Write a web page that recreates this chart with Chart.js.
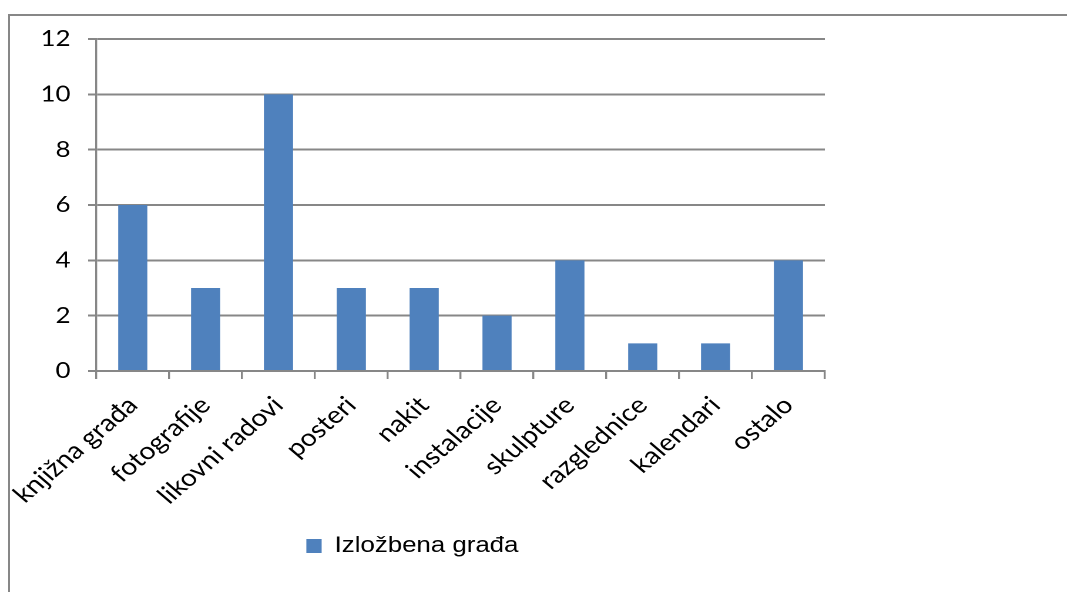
<!DOCTYPE html>
<html>
<head>
<meta charset="utf-8">
<script src="https://cdn.jsdelivr.net/npm/chart.js@4/dist/chart.umd.min.js"></script>
<style>
  html, body { margin: 0; padding: 0; background: #fff; width: 1067px; height: 592px; overflow: hidden; }
  #frame { position: absolute; left: 8px; top: 14px; width: 2000px; height: 2000px; border: 2px solid #878787; box-sizing: border-box; }
  #wrap { position: absolute; left: 0; top: 0; width: 710px; height: 592px; transform: scaleX(1.175); transform-origin: 0 0; }
</style>
</head>
<body>
<div id="frame"></div>
<div id="wrap"><canvas id="c"></canvas></div>
<script>
const categories = ['knjižna građa', 'fotografije', 'likovni radovi', 'posteri', 'nakit', 'instalacije', 'skulpture', 'razglednice', 'kalendari', 'ostalo'];
const seriesName = 'Izložbena građa';
const values = [6, 3, 10, 3, 3, 2, 4, 1, 1, 4];
const yTicks = [0, 2, 4, 6, 8, 10, 12];

const axisGray = '#878787';

new Chart(document.getElementById('c'), {
  type: 'bar',
  data: {
    labels: categories,
    datasets: [{
      label: seriesName,
      data: values,
      backgroundColor: '#4F81BD',
      borderWidth: 0,
      barPercentage: 0.4,
      categoryPercentage: 1.0
    }]
  },
  options: {
    responsive: true,
    maintainAspectRatio: false,
    animation: false,
    devicePixelRatio: 2,
    layout: { padding: { left: 0, right: 8, top: 39, bottom: 25 } },
    plugins: {
      tooltip: { enabled: false },
      legend: {
        position: 'bottom',
        labels: {
          boxWidth: 13,
          boxHeight: 14,
          padding: 10,
          color: '#000',
          font: { family: 'Liberation Sans', size: 22 }
        }
      }
    },
    scales: {
      x: {
        offset: true,
        grid: {
          offset: true,
          drawOnChartArea: false,
          drawTicks: true,
          tickLength: 8,
          color: axisGray,
          lineWidth: 1.7
        },
        border: { display: true, color: axisGray, width: 2 },
        ticks: {
          autoSkip: false,
          minRotation: 45,
          maxRotation: 45,
          padding: 12,
          color: '#000',
          font: { family: 'Lato', size: 24 }
        },
        afterFit(scale) {
          scale.height = 154;
          scale.paddingLeft = 0;
          scale.paddingRight = 0;
        }
      },
      y: {
        min: 0,
        max: 12,
        afterBuildTicks(scale) {
          scale.ticks = yTicks.map(v => ({ value: v }));
        },
        grid: {
          drawTicks: true,
          tickLength: 7,
          color: axisGray,
          lineWidth: 2
        },
        border: { display: true, color: axisGray, width: 1.7 },
        ticks: {
          padding: 15,
          color: '#000',
          font: { family: 'Lato', size: 22 }
        },
        afterFit(scale) {
          scale.width = 82;
        }
      }
    }
  }
});
</script>
</body>
</html>
